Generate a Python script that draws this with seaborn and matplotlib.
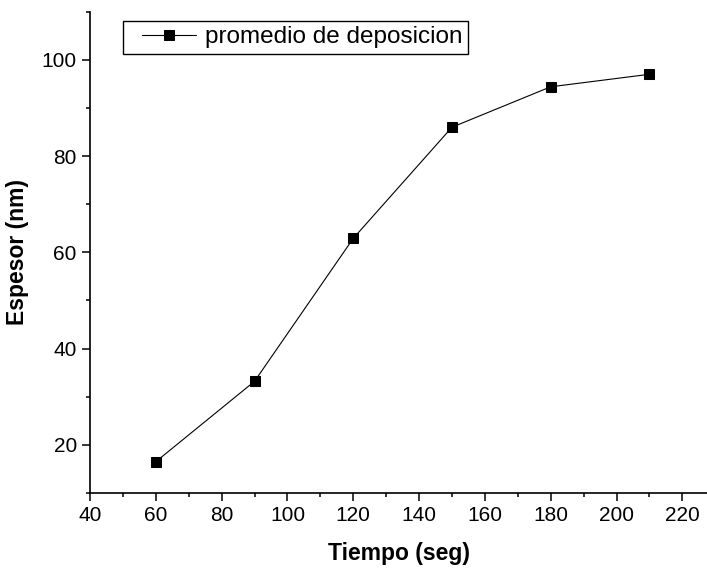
import matplotlib
matplotlib.use("Agg")
import matplotlib.pyplot as plt
import seaborn as sns
import pandas as pd
from matplotlib.ticker import MultipleLocator
from matplotlib.lines import Line2D
from matplotlib.legend_handler import HandlerLine2D

# Deposition thickness vs. time
tiempo = [60, 90, 120, 150, 180, 210]
espesor = [16.5, 33.2, 62.9, 86.0, 94.4, 97.0]
serie = "promedio de deposicion"

df = pd.DataFrame({"Tiempo": tiempo, "Espesor": espesor, "serie": serie})

sns.set_style("ticks")
plt.rcParams["font.family"] = ["Liberation Sans", "DejaVu Sans"]
plt.rcParams["text.color"] = "black"
plt.rcParams["axes.labelcolor"] = "black"

fig = plt.figure(figsize=(7.07, 5.69), dpi=100)
ax = fig.add_axes([0.1273, 0.1336, 0.8727, 0.8458])

sns.lineplot(data=df, x="Tiempo", y="Espesor", hue="serie", palette=["black"],
             marker="s", markersize=7.5, markeredgecolor="black",
             linewidth=0.8, ax=ax)

ax.set_xlim(40, 227.5)
ax.set_ylim(10, 110)
ax.xaxis.set_major_locator(MultipleLocator(20))
ax.xaxis.set_minor_locator(MultipleLocator(10))
ax.yaxis.set_major_locator(MultipleLocator(20))
ax.yaxis.set_minor_locator(MultipleLocator(10))
ax.set_yticks([20, 40, 60, 80, 100])

ax.tick_params(which="major", direction="out", length=5.5, width=1.1,
               labelsize=15, colors="black", pad=4)
ax.tick_params(which="minor", direction="out", length=3, width=1.1,
               colors="black")

for side in ("top", "right"):
    ax.spines[side].set_visible(False)
for side in ("left", "bottom"):
    ax.spines[side].set_linewidth(1.2)
    ax.spines[side].set_color("black")

ax.set_xlabel("Tiempo (seg)", fontsize=16.5, fontweight="bold", labelpad=12)
ax.set_ylabel("Espesor (nm)", fontsize=16.5, fontweight="bold", labelpad=9)

leg = ax.legend(loc="upper left", bbox_to_anchor=(0.0535, 0.981), fontsize=17.5,
                frameon=True, fancybox=False, edgecolor="black",
                handlelength=2.8, handletextpad=0.37, borderpad=0.22,
                borderaxespad=0.0,
                handler_map={Line2D: HandlerLine2D(xpad=0.58)})
leg.get_frame().set_linewidth(1.0)
leg.get_frame().set_alpha(1)
for t in leg.get_texts():
    t.set_color("black")

fig.savefig("out.png", dpi=100)
